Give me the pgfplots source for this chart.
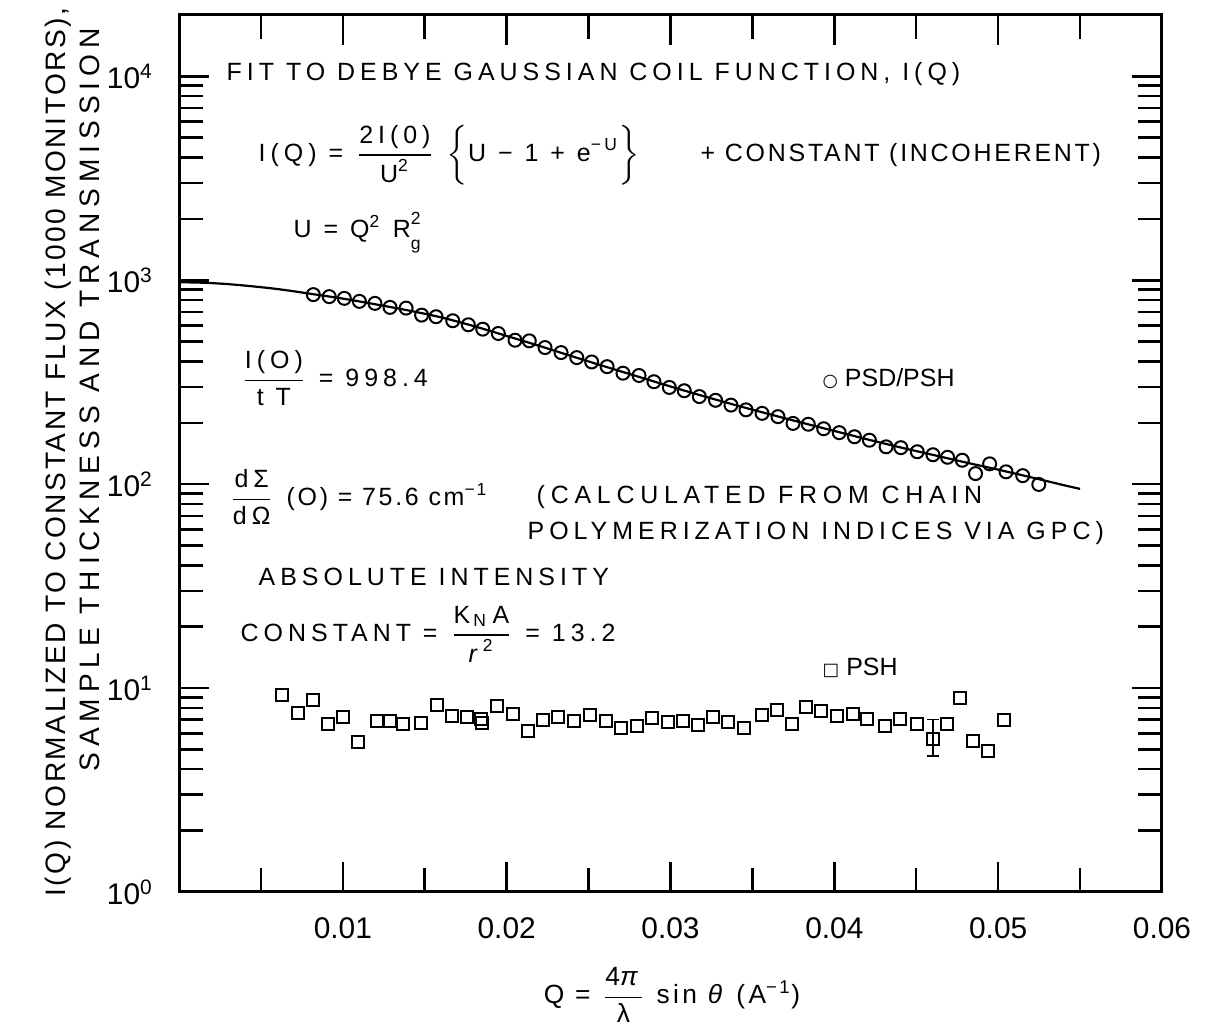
\documentclass[border=0pt]{standalone}
\usepackage{fontspec}
\setmainfont{Liberation Sans}
\newfontfamily\lettered{Liberation Sans}[LetterSpace=20]
\newfontfamily\widefont{Liberation Sans}[LetterSpace=23]
\newfontfamily\midfont{Liberation Sans}[LetterSpace=11]
\newfontfamily\ylabfonta{Liberation Sans}[LetterSpace=9]
\newfontfamily\ylabfontb{Liberation Sans}[LetterSpace=21]
\newfontfamily\xlabfont{Liberation Sans}[LetterSpace=13]
\newfontfamily\plainfont{Liberation Sans}
\newfontfamily\symb{DejaVu Sans}
\usepackage{amsmath}
\usepackage{pgfplots}
\pgfplotsset{compat=1.18}

% fraction set in the surrounding text font
\newcommand{\fr}[2]{$\dfrac{\text{#1}}{\text{#2}}$}
\newcommand{\annsize}{\fontsize{7.1}{8.5}\selectfont}
\newcommand{\annfont}{\lettered\annsize}

% PSD/PSH scattering, Q [1/A] and normalized intensity
\pgfplotstableread{
q       I
0.00820 850.3
0.00917 831.2
0.01009 815.3
0.01101 788.0
0.01196 770.4
0.01288 736.2
0.01386 730.4
0.01481 674.6
0.01569 662.5
0.01671 633.1
0.01766 605.0
0.01854 575.6
0.01949 548.2
0.02051 508.1
0.02138 504.6
0.02234 467.7
0.02332 441.9
0.02428 417.5
0.02519 397.6
0.02613 377.0
0.02710 350.2
0.02808 341.2
0.02899 318.0
0.02993 298.1
0.03084 287.2
0.03176 268.9
0.03275 257.8
0.03369 244.2
0.03461 231.5
0.03559 222.5
0.03656 214.3
0.03748 198.6
0.03841 196.8
0.03935 187.0
0.04030 178.9
0.04123 170.8
0.04214 164.3
0.04316 152.5
0.04406 151.0
0.04506 144.2
0.04602 139.4
0.04691 135.5
0.04781 131.0
0.04862 112.7
0.04948 125.8
0.05048 115.0
0.05150 110.1
0.05248 99.7
}\psdpsh

% PSH (incoherent background)
\pgfplotstableread{
q       I
0.00627 9.24
0.00728 7.53
0.00820 8.76
0.00911 6.70
0.01003 7.25
0.01094 5.44
0.01207 6.88
0.01288 6.88
0.01369 6.65
0.01475 6.78
0.01573 8.25
0.01665 7.30
0.01756 7.25
0.01842 7.04
0.01850 6.72
0.01943 8.18
0.02037 7.45
0.02132 6.16
0.02224 6.98
0.02313 7.20
0.02411 6.88
0.02509 7.36
0.02606 6.88
0.02698 6.36
0.02796 6.50
0.02887 7.12
0.02985 6.80
0.03076 6.88
0.03168 6.57
0.03260 7.20
0.03351 6.80
0.03449 6.36
0.03557 7.36
0.03648 7.82
0.03740 6.65
0.03827 8.12
0.03919 7.73
0.04015 7.30
0.04112 7.45
0.04198 7.04
0.04309 6.52
0.04401 7.09
0.04503 6.70
0.04686 6.70
0.04767 8.90
0.04848 5.50
0.04940 4.91
0.05036 6.96
}\psh

% Debye Gaussian coil fit
\pgfplotstableread{
q      I
0.000  977.2
0.001  975.0
0.002  968.3
0.003  957.2
0.004  941.9
0.005  924.7
0.006  905.7
0.007  883.1
0.008  859.0
0.010  812.8
0.012  762.1
0.014  711.2
0.016  657.7
0.018  595.7
0.020  533.3
0.022  476.4
0.024  423.6
0.026  377.6
0.028  337.3
0.030  301.3
0.032  270.4
0.034  243.8
0.036  220.8
0.038  200.4
0.040  182.4
0.042  166.0
0.044  151.7
0.046  139.3
0.048  127.9
0.050  117.8
0.052  108.1
0.054  98.9
0.055  94.8
}\debyefit

\begin{document}
\begin{tikzpicture}
\begin{axis}[
  at={(0,0)}, anchor=south west,
  scale only axis, width=98.3mm, height=87.7mm,
  xmin=0, xmax=0.06,
  ymode=log, ymin=1, ymax=2e4,
  xtick={0.01,0.02,0.03,0.04,0.05,0.06},
  xticklabels={0.01,0.02,0.03,0.04,0.05,0.06},
  minor xtick={0.005,0.015,0.025,0.035,0.045,0.055},
  scaled x ticks=false,
  ytick={1,10,100,1000,10000},
  yticklabels={10\textsuperscript{0},10\textsuperscript{1},10\textsuperscript{2},10\textsuperscript{3},10\textsuperscript{4}},
  tick align=inside,
  major tick length=3mm, minor tick length=2.4mm,
  axis line style={line width=0.3mm},
  every tick/.style={black, line width=0.25mm},
  xticklabel style={font=\fontsize{8.5}{10}\selectfont, yshift=-1.3mm},
  yticklabel style={font=\fontsize{8.5}{10}\selectfont, xshift=-1.3mm},
]
\addplot[no marks, line width=0.22mm, smooth] table[x=q, y=I] {\debyefit};
\addplot[only marks, mark=o, mark size=0.65mm,
  mark options={line width=0.2mm, fill=white}] table[x=q, y=I] {\psdpsh};
\addplot[only marks, mark=square, mark size=0.6mm,
  mark options={line width=0.2mm, fill=white}] table[x=q, y=I] {\psh};
\addplot[only marks, mark=square, mark size=0.6mm,
  mark options={line width=0.2mm, fill=white},
  error bars/.cd, y dir=both, y explicit,
  error bar style={line width=0.2mm}, error mark options={rotate=90, mark size=0.6mm}]
  coordinates {(0.04601,5.65) += (0,1.38) -= (0,1.01)};
\end{axis}

% annotations
\begin{scope}[every node/.style={inner sep=0pt, font=\annfont}]
\node[anchor=west] at (4.7mm,81.8mm) {FIT TO DEBYE GAUSSIAN COIL FUNCTION, I(Q)};
\node[anchor=west] at (7.9mm,73.7mm) {I(Q) = \fr{2I(0)}{U\textsuperscript{2}} $\bigg\{\text{U − 1 + e\textsuperscript{−U}}\bigg\}$};
\node[anchor=west, font=\midfont\annsize] at (52.1mm,73.7mm) {+ CONSTANT (INCOHERENT)};
\node[anchor=west] at (11.4mm,65.9mm) {U = Q\textsuperscript{2} R\rlap{\raisebox{1.0ex}{\fontsize{5}{6}\selectfont 2}}\raisebox{-0.9ex}{\fontsize{5}{6}\selectfont g}};
\node[anchor=west] at (6.1mm,51.4mm) {\fr{I(O)}{t T} = 998.4};
\node[anchor=west] at (4.9mm,39.5mm) {\fr{dΣ}{dΩ} {\midfont\annsize(O) = 75.6 cm\textsuperscript{−1}}};
\node[anchor=west, font=\widefont\annsize] at (35.7mm,39.5mm) {(CALCULATED FROM CHAIN};
\node[anchor=west] at (34.8mm,35.9mm) {POLYMERIZATION INDICES VIA GPC)};
\node[anchor=west] at (7.9mm,31.5mm) {ABSOLUTE INTENSITY};
\node[anchor=west] at (6.1mm,25.8mm) {CONSTANT = \fr{K\hspace{0.3mm}\textsubscript{N}\hspace{0.5mm}A}{\textit{r}\textsuperscript{2}} = 13.2};
\node[anchor=west, font=\plainfont\annsize] at (64.3mm,51.3mm) {{\symb\fontsize{5}{6}\selectfont ○}\ PSD/PSH};
\node[anchor=west, font=\plainfont\annsize] at (64.3mm,22.4mm) {{\symb\fontsize{5}{6}\selectfont □}\ PSH};
\end{scope}

% axis titles
\node[rotate=90, inner sep=0pt, font=\ylabfonta\fontsize{8}{9.6}\selectfont] at (-12.1mm,44.0mm)
  {I(Q) NORMALIZED TO CONSTANT FLUX (1000 MONITORS),};
\node[rotate=90, inner sep=0pt, font=\ylabfontb\fontsize{8}{9.6}\selectfont] at (-8.9mm,49.2mm)
  {SAMPLE THICKNESS AND TRANSMISSION};
\node[inner sep=0pt, font=\xlabfont\fontsize{7.5}{9}\selectfont] at (49.3mm,-10.3mm)
  {Q = \fr{4\textit{π}}{λ} sin \textit{θ} (A\textsuperscript{−1})};

\pgfresetboundingbox
\path (-17.9mm,-13.9mm) rectangle (102.8mm,89.2mm);
\end{tikzpicture}
\end{document}
